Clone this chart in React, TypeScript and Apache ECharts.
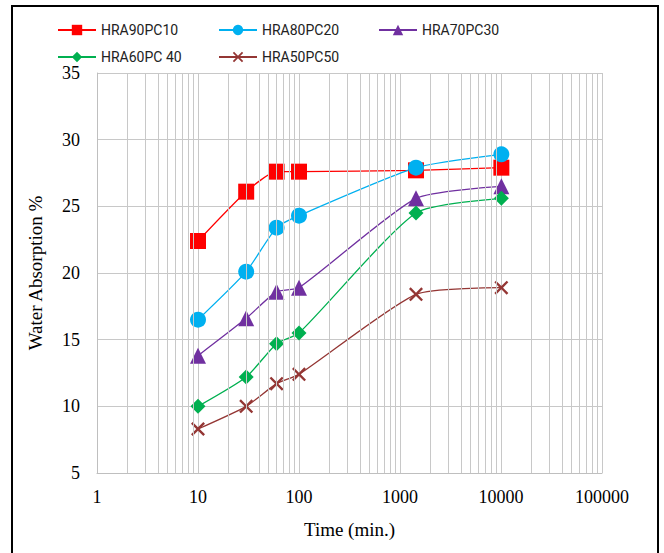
import React, { useEffect, useRef } from "react";
import * as echarts from "echarts";

const times = [10, 30, 60, 100, 1440, 10080];
const seriesNames = ["HRA90PC10", "HRA80PC20", "HRA70PC30", "HRA60PC 40", "HRA50PC50"];
const hra90pc10 = [22.4, 26.1, 27.6, 27.6, 27.7, 27.9];
const hra80pc20 = [16.5, 20.1, 23.4, 24.3, 27.9, 28.9];
const hra70pc30 = [13.8, 16.6, 18.6, 18.9, 25.6, 26.5];
const hra60pc40 = [10.0, 12.2, 14.7, 15.5, 24.5, 25.6];
const hra50pc50 = [8.3, 10.0, 11.7, 12.4, 18.4, 18.9];
const minorX = [2, 3, 4, 5, 6, 7, 8, 9, 20, 30, 40, 50, 60, 70, 80, 90, 200, 300, 400, 500, 600, 700, 800, 900,
  2000, 3000, 4000, 5000, 6000, 7000, 8000, 9000, 20000, 30000, 40000, 50000, 60000, 70000, 80000, 90000];

const colors = ["#FF0000", "#00B0F0", "#7030A0", "#00B050", "#943634"];
const symbols = [
  "rect",
  "circle",
  "triangle",
  "diamond",
  "path://M0,1.2L1.2,0L5,3.8L8.8,0L10,1.2L6.2,5L10,8.8L8.8,10L5,6.2L1.2,10L0,8.8L3.8,5Z",
];
const symbolSizes = [16, 16, 16, 15, 14];
const values = [hra90pc10, hra80pc20, hra70pc30, hra60pc40, hra50pc50];

export default function App() {
  const ref = useRef<HTMLDivElement>(null);
  useEffect(() => {
    const chart = echarts.init(ref.current!, null, { renderer: "svg" });
    const legendPos = [
      { left: 52, top: 18 },
      { left: 213, top: 18 },
      { left: 373, top: 18 },
      { left: 52, top: 45 },
      { left: 213, top: 45 },
    ];
    const series: any[] = values.map((v, i) => ({
      name: seriesNames[i],
      type: "line",
      smooth: 0.2,
      data: times.map((t, j) => [t, v[j]]),
      symbol: symbols[i],
      symbolSize: symbolSizes[i],
      itemStyle: { color: colors[i] },
      lineStyle: { color: colors[i], width: 1.3 },
      z: 3,
    }));
    series.push({
      name: "minor",
      type: "line",
      data: [[1, 5]],
      symbol: "none",
      lineStyle: { width: 0 },
      silent: true,
      z: 1,
      markLine: {
        silent: true,
        symbol: "none",
        label: { show: false },
        lineStyle: { color: "#c8c8c8", type: "solid", width: 1 },
        data: minorX.map((x) => ({ xAxis: x })),
      },
    });
    chart.setOption({
      animation: false,
      backgroundColor: "#ffffff",
      legend: legendPos.map((p, i) => ({
        left: p.left,
        top: p.top,
        data: [seriesNames[i]],
        itemWidth: 38,
        itemHeight: 13,
        textStyle: { fontFamily: "Roboto", fontSize: 14, color: "#222" },
        selectedMode: false,
      })),
      grid: { left: 97, right: 62, top: 73, bottom: 80 },
      xAxis: {
        type: "log",
        logBase: 10,
        min: 1,
        max: 100000,
        name: "Time (min.)",
        nameLocation: "middle",
        nameGap: 47,
        nameTextStyle: { fontFamily: "Liberation Serif", fontSize: 19, color: "#000" },
        axisLine: { lineStyle: { color: "#bfbfbf" } },
        axisTick: { show: false },
        axisLabel: {
          fontFamily: "Liberation Serif",
          fontSize: 18,
          color: "#000",
          margin: 15,
          formatter: (v: number) => String(Math.round(v)),
        },
        splitLine: { show: true, lineStyle: { color: "#c8c8c8" } },
      },
      yAxis: {
        type: "value",
        min: 5,
        max: 35,
        interval: 5,
        name: "Water Absorption %",
        nameLocation: "middle",
        nameGap: 52,
        nameTextStyle: { fontFamily: "Liberation Serif", fontSize: 19, color: "#000" },
        axisLine: { show: true, lineStyle: { color: "#bfbfbf" } },
        axisTick: { show: false },
        axisLabel: { fontFamily: "Liberation Serif", fontSize: 18, color: "#000", margin: 17 },
        splitLine: { show: true, lineStyle: { color: "#c8c8c8" } },
      },
      graphic: [
        {
          type: "rect",
          shape: { x: 12, y: 6, width: 646, height: 570 },
          style: { fill: "none", stroke: "#000", lineWidth: 2 },
          silent: true,
        },
      ],
      series,
    });
    return () => chart.dispose();
  }, []);
  return <div ref={ref} style={{ position: "fixed", left: 0, top: 0, width: 664, height: 553 }} />;
}
